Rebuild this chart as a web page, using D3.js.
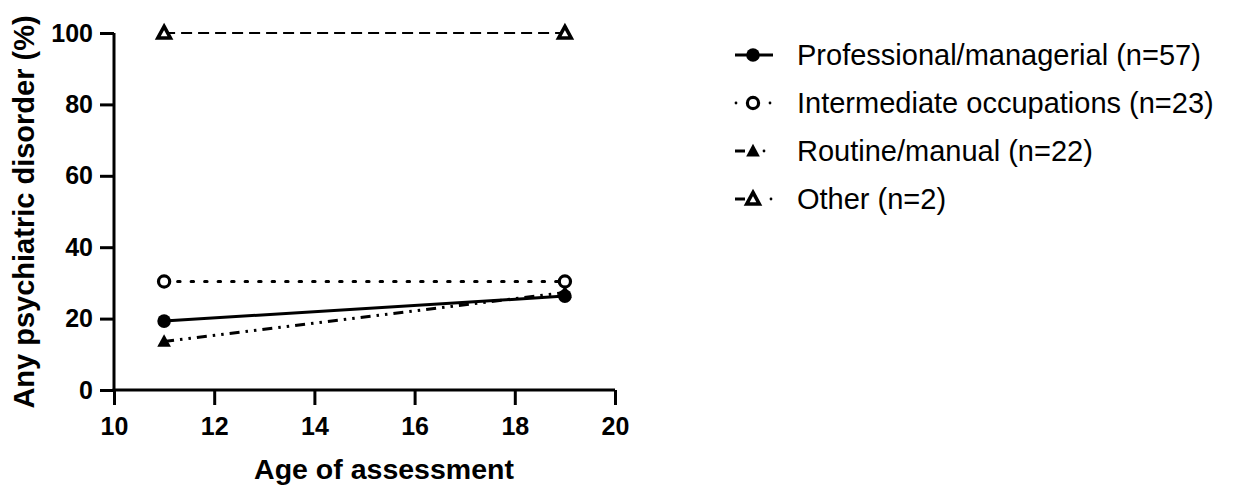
<!DOCTYPE html>
<html><head><meta charset="utf-8">
<script src="https://cdn.jsdelivr.net/npm/d3@7"></script>
<style>body{margin:0;background:#fff}svg{display:block}
.tick text{font-family:"Liberation Sans",Arial,sans-serif;font-weight:bold;font-size:25px;fill:#000}</style>
</head><body>
<svg id="c" width="1237" height="488"></svg>
<script>
const ages = [11, 19];
const seriesNames = ["Professional/managerial (n=57)", "Intermediate occupations (n=23)", "Routine/manual (n=22)", "Other (n=2)"];
const professional = [19.3, 26.3];
const intermediate = [30.4, 30.4];
const routine = [13.6, 27.3];
const other = [100, 100];
const xTicks = [10, 12, 14, 16, 18, 20];
const yTicks = [0, 20, 40, 60, 80, 100];

const svg = d3.select("#c");
const x = d3.scaleLinear().domain([10, 20]).range([114, 615]);
const y = d3.scaleLinear().domain([0, 100]).range([390, 33]);
const font = "Liberation Sans, Arial, sans-serif";

const styles = [
  {data: professional, dash: null, w: 3, marker: "circle", fill: true},
  {data: intermediate, dash: "2.5,11", w: 3, marker: "circle", fill: false, cap: "round"},
  {data: routine, dash: "10,6,2.5,6,2.5,6", w: 3, marker: "triangle", fill: true},
  {data: other, dash: "11,6", w: 2, marker: "triangle", fill: false}
];

const line = d3.line().x((d, i) => x(ages[i])).y(d => y(d));

function marker(g, type, fill, cx, cy) {
  if (type === "circle") {
    g.append("circle").attr("cx", cx).attr("cy", cy)
      .attr("r", fill ? 6.8 : 5.6)
      .attr("fill", fill ? "#000" : "#fff")
      .attr("stroke", "#000").attr("stroke-width", fill ? 0 : 3.2);
  } else {
    const s = fill ? 7.2 : 6.6;
    const pts = [[cx, cy - s], [cx + s * 0.95, cy + s * 0.75], [cx - s * 0.95, cy + s * 0.75]];
    g.append("path").attr("d", "M" + pts.map(p => p.join(",")).join("L") + "Z")
      .attr("fill", fill ? "#000" : "#fff")
      .attr("stroke", "#000").attr("stroke-width", fill ? 0 : 3.6).attr("stroke-linejoin", "miter");
  }
}

// lines
styles.slice().reverse().forEach(s => {
  svg.append("path").datum(s.data).attr("d", line)
    .attr("fill", "none").attr("stroke", "#000").attr("stroke-width", s.w)
    .attr("stroke-dasharray", s.dash).attr("stroke-linecap", s.cap || "butt");
});
styles.forEach(s => {
  s.data.forEach((v, i) => marker(svg, s.marker, s.fill, x(ages[i]), y(v)));
});

// axes
const xAxis = svg.append("g").attr("transform", "translate(0,390)")
  .call(d3.axisBottom(x).tickValues(xTicks).tickSize(15).tickPadding(12).tickFormat(d3.format("d")));
const yAxis = svg.append("g").attr("transform", "translate(114,0)")
  .call(d3.axisLeft(y).tickValues(yTicks).tickSize(14).tickPadding(7).tickFormat(d3.format("d")));
[xAxis, yAxis].forEach(a => {
  a.selectAll(".tick line").attr("stroke-width", 3);
});
xAxis.select(".domain").attr("d", "M" + (x(10) - 1.5) + ",0H" + x(20)).attr("stroke", "#000").attr("stroke-width", 3);
yAxis.select(".domain").attr("d", "M0," + (y(0) + 1.5) + "V" + y(100)).attr("stroke", "#000").attr("stroke-width", 3);

svg.append("text").attr("x", 384).attr("y", 479).attr("text-anchor", "middle")
  .attr("font-family", font).attr("font-weight", "bold").attr("font-size", 28.5).text("Age of assessment");
svg.append("text").attr("transform", "translate(34,212) rotate(-90)").attr("text-anchor", "middle")
  .attr("font-family", font).attr("font-weight", "bold").attr("font-size", 29).text("Any psychiatric disorder (%)");

// legend
const legY = [55, 103, 151, 199];
const lg = svg.append("g");
styles.forEach((s, i) => {
  const cy = legY[i];
  if (i === 0) {
    lg.append("line").attr("x1", 735).attr("x2", 773).attr("y1", cy).attr("y2", cy)
      .attr("stroke", "#000").attr("stroke-width", 3);
  } else if (i === 1) {
    [736, 770].forEach(px => lg.append("circle").attr("cx", px).attr("cy", cy).attr("r", 1.4).attr("fill", "#000"));
  } else {
    lg.append("line").attr("x1", 735).attr("x2", 745).attr("y1", cy).attr("y2", cy)
      .attr("stroke", "#000").attr("stroke-width", 3);
    lg.append("circle").attr("cx", i === 2 ? 764 : 771).attr("cy", cy).attr("r", 1.4).attr("fill", "#000");
  }
  marker(lg, s.marker, s.fill, 753, cy);
  lg.append("text").attr("x", 797).attr("y", cy).attr("dy", "0.36em")
    .attr("font-family", font).attr("font-size", 29).text(seriesNames[i]);
});
</script>
</body></html>
